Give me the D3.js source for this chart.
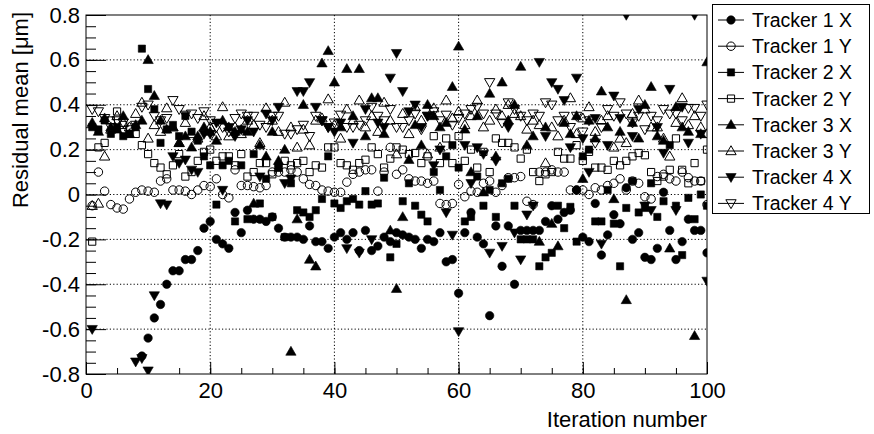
<!DOCTYPE html>
<html><head><meta charset="utf-8">
<script src="https://cdn.jsdelivr.net/npm/d3@7"></script>
<style>body{margin:0;background:#fff}svg{display:block}</style>
</head><body>
<svg id="c" width="874" height="434"></svg>
<script>
const iterations = d3.range(1, 101);
const seriesNames = ["Tracker 1 X","Tracker 1 Y","Tracker 2 X","Tracker 2 Y","Tracker 3 X","Tracker 3 Y","Tracker 4 X","Tracker 4 Y"];
const markerTypes = ["circleFilled","circleOpen","squareFilled","squareOpen","triUpFilled","triUpOpen","triDownFilled","triDownOpen"];
const xTicks = [0,20,40,60,80,100];
const yTicks = [-0.8,-0.6,-0.4,-0.2,0,0.2,0.4,0.6,0.8];

const tracker1X = [null,null,null,null,null,null,null,null,-0.72,-0.64,-0.55,-0.49,-0.40,-0.34,-0.34,-0.29,-0.29,-0.25,-0.15,-0.12,
 -0.20,-0.22,-0.24,-0.08,-0.17,-0.07,-0.11,-0.11,-0.12,-0.10,-0.15,-0.19,-0.19,-0.19,-0.20,-0.14,-0.21,-0.21,-0.24,-0.19,
 -0.17,-0.20,-0.17,-0.25,-0.16,-0.25,-0.23,-0.19,-0.21,-0.17,-0.18,-0.19,-0.20,-0.24,-0.20,-0.21,-0.17,-0.30,-0.29,-0.44,
 -0.17,-0.08,-0.19,-0.22,-0.54,-0.14,-0.32,-0.14,-0.40,-0.16,-0.16,-0.16,-0.16,-0.12,-0.05,-0.11,-0.08,-0.07,0.02,-0.19,
 -0.21,-0.04,-0.27,-0.18,-0.09,-0.13,0.03,-0.20,-0.17,-0.28,-0.29,-0.24,0.01,-0.16,-0.29,-0.21,-0.11,-0.16,-0.16,-0.26];
const tracker1Y = [-0.05,0.10,0.015,-0.045,-0.06,-0.065,-0.02,0.01,0.02,0.015,0.01,0.06,0.07,0.02,0.02,0.015,0.00,0.02,0.04,0.035,
 0.07,0.00,-0.015,0.11,0.04,0.04,0.035,0.03,0.04,0.10,0.10,0.10,0.11,0.10,0.07,0.045,0.04,0.02,0.015,0.01,
 0.01,0.055,0.09,0.10,0.11,0.11,0.015,0.10,0.21,0.09,0.11,0.07,0.06,0.06,0.05,0.06,-0.04,-0.045,-0.04,0.045,
 -0.01,0.015,0.01,0.05,0.06,0.01,0.04,0.075,0.075,0.08,-0.03,-0.045,0.10,0.10,0.11,0.10,0.10,0.02,0.02,0.02,
 0.00,0.03,0.02,0.04,0.05,0.07,0.02,0.06,0.05,-0.01,-0.02,0.08,0.09,0.07,0.06,0.10,0.075,0.06,0.06,-0.045];
const tracker2X = [0.30,0.29,0.33,0.27,0.30,0.26,0.27,0.30,0.65,0.47,0.38,0.23,0.29,0.31,0.26,0.35,0.28,0.24,0.17,0.13,
 -0.045,0.13,0.15,-0.12,0.13,-0.11,0.18,-0.04,0.07,-0.10,0.12,-0.19,0.05,-0.07,-0.08,-0.10,-0.07,-0.02,0.17,-0.04,
 -0.06,-0.03,-0.02,-0.045,0.015,-0.045,-0.04,0.075,-0.28,-0.22,-0.03,0.05,-0.05,-0.09,-0.12,0.10,0.02,0.17,0.22,0.12,
 -0.12,-0.10,0.08,-0.05,0.02,-0.10,0.05,0.07,-0.05,-0.20,-0.20,-0.20,-0.32,-0.28,-0.26,-0.05,-0.15,-0.055,-0.21,0.17,
 0.20,-0.12,-0.12,0.02,-0.13,-0.32,-0.06,0.06,-0.08,-0.06,0.05,-0.10,-0.03,0.22,-0.05,-0.27,-0.015,-0.11,0.00,-0.05];
const tracker2Y = [-0.21,0.21,0.23,0.33,0.37,0.31,0.27,0.27,0.22,0.18,0.14,0.12,0.09,0.13,0.18,0.08,0.10,0.15,0.19,0.20,
 0.15,0.17,0.17,0.13,0.18,0.08,0.10,0.14,0.14,0.09,0.12,0.15,0.13,0.14,0.15,0.10,0.13,0.12,0.21,0.21,
 0.14,0.13,0.11,0.14,0.155,0.21,0.18,0.12,0.16,0.21,0.20,0.18,0.185,0.14,0.17,0.26,0.14,0.25,0.14,0.26,
 0.15,0.20,0.12,0.19,0.10,0.25,0.23,0.23,0.21,0.16,0.20,0.10,0.06,0.09,0.10,0.19,0.16,0.16,0.22,0.15,
 0.19,0.12,0.12,0.11,0.15,0.13,0.15,0.17,0.185,0.175,0.10,0.06,0.08,0.11,0.25,0.11,0.05,0.14,0.06,0.20];
const tracker3X = [0.32,0.28,0.34,0.30,0.29,0.35,0.27,0.31,0.33,0.60,0.44,0.33,0.29,0.30,0.23,0.26,0.21,0.26,0.30,0.28,
 0.24,0.33,0.30,0.28,0.29,0.28,-0.04,0.22,0.17,0.28,0.15,0.20,-0.70,-0.11,0.40,-0.29,-0.32,0.585,0.64,0.50,
 0.30,0.56,0.35,0.56,0.26,0.43,0.43,0.27,-0.16,-0.42,-0.10,0.155,0.31,0.22,0.40,0.35,0.30,0.32,0.48,0.66,
 0.29,0.10,0.35,0.01,0.45,0.17,0.50,0.33,0.40,0.57,0.22,0.26,-0.21,0.30,-0.13,-0.23,0.32,0.27,0.35,0.07,
 0.33,0.25,0.46,0.30,-0.02,0.28,-0.47,0.32,0.25,0.40,0.48,0.26,0.24,-0.24,0.39,0.30,0.28,-0.63,0.27,0.59];
const tracker3Y = [-0.05,-0.04,0.17,0.29,0.35,0.32,0.30,0.36,0.41,0.25,0.31,0.28,0.385,0.30,0.23,0.32,0.27,0.25,0.35,0.30,
 0.26,0.39,0.26,0.30,0.27,0.33,0.31,0.23,0.385,0.33,0.28,0.41,0.30,0.21,0.29,0.22,0.33,0.34,0.425,0.31,
 0.25,0.38,0.33,0.42,0.30,0.35,0.28,0.41,0.33,0.18,0.36,0.27,0.39,0.33,0.18,0.385,0.21,0.42,0.34,0.37,
 0.31,0.35,0.42,0.30,0.33,0.38,0.35,0.40,0.36,0.35,0.29,0.33,0.31,0.14,0.30,0.26,0.33,0.43,0.27,0.34,
 0.39,0.28,0.33,0.35,0.21,0.25,0.23,0.36,0.42,0.38,0.30,0.30,0.25,0.17,0.32,0.43,0.31,0.35,0.30,0.27];
const tracker4X = [-0.60,null,null,null,null,null,null,-0.745,-0.73,-0.785,-0.45,-0.04,-0.045,0.17,0.14,0.155,0.11,0.10,0.27,0.27,
 0.32,0.02,0.30,0.26,0.29,0.33,0.28,0.08,0.36,0.33,0.39,0.05,0.07,0.46,0.46,0.50,0.39,0.33,0.30,0.28,
 0.32,-0.24,0.23,-0.26,0.38,-0.20,0.32,0.30,0.52,0.63,0.46,0.37,0.40,0.30,0.35,0.13,0.20,-0.08,-0.18,-0.61,
 0.22,0.05,0.21,0.18,-0.26,0.15,-0.23,0.30,-0.17,-0.29,-0.09,-0.05,0.59,0.26,0.50,0.47,0.42,0.21,0.52,0.25,
 0.10,0.34,-0.22,0.22,0.44,0.34,0.80,0.26,0.38,-0.05,-0.07,0.30,0.185,0.47,-0.07,0.39,0.23,0.80,0.27,-0.385];
const tracker4Y = [0.38,0.37,0.34,0.30,0.33,0.32,0.29,0.31,0.39,0.40,0.35,0.33,0.34,0.42,0.38,0.355,0.36,0.34,0.37,0.33,
 0.30,0.30,0.28,0.34,0.36,0.35,0.35,0.31,0.30,0.35,0.35,0.27,0.27,0.29,0.31,0.26,0.35,0.33,0.30,0.32,
 0.355,0.30,0.30,0.31,0.33,0.39,0.35,0.33,0.38,0.30,0.30,0.33,0.36,0.29,0.35,0.37,0.33,0.355,0.31,0.34,
 0.36,0.38,0.39,0.36,0.50,0.36,0.32,0.41,0.38,0.35,0.33,0.36,0.35,0.41,0.40,0.33,0.35,0.30,0.35,0.28,
 0.33,0.23,0.30,0.38,0.35,0.41,0.36,0.32,0.35,0.29,0.35,0.33,0.38,0.36,0.36,0.33,0.385,0.385,0.35,0.40];

const seriesValues = [tracker1X,tracker1Y,tracker2X,tracker2Y,tracker3X,tracker3Y,tracker4X,tracker4Y];

const L = 86, R = 707, T = 15, B = 374;
const x = d3.scaleLinear().domain([0,100]).range([L,R]);
const y = d3.scaleLinear().domain([-0.8,0.8]).range([B,T]);
const svg = d3.select("#c");
const font = "'Liberation Sans', Arial, Helvetica, sans-serif";

function markerPath(type){
  if (type.startsWith("circle")) return d3.symbol(d3.symbolCircle, 56)();
  if (type.startsWith("square")) return d3.symbol(d3.symbolSquare, 52)();
  return d3.symbol(d3.symbolTriangle, 46)();
}
function drawMarker(g, type, cx, cy){
  const filled = type.endsWith("Filled");
  const rot = type.startsWith("triDown") ? " rotate(180)" : "";
  const dy = type.startsWith("triUp") ? 0.7 : (type.startsWith("triDown") ? -0.7 : 0);
  g.append("path").attr("d", markerPath(type))
    .attr("transform", `translate(${cx},${cy+dy})${rot}`)
    .attr("fill", filled ? "#000" : "none")
    .attr("stroke", "#000").attr("stroke-width", filled ? 0.6 : 1);
}

// grid
const grid = svg.append("g").attr("stroke","#000").attr("stroke-width",1).attr("stroke-dasharray","1.2,2.2");
xTicks.filter(d => d>0 && d<100).forEach(d => grid.append("line")
  .attr("x1", x(d)).attr("x2", x(d)).attr("y1", T).attr("y2", B));
yTicks.filter(d => d>-0.8 && d<0.8).forEach(d => grid.append("line")
  .attr("x1", L).attr("x2", R).attr("y1", y(d)).attr("y2", y(d)));

// clip & data
svg.append("clipPath").attr("id","clip").append("rect")
  .attr("x", L).attr("y", T).attr("width", R-L).attr("height", B-T);
const pts = svg.append("g").attr("clip-path","url(#clip)");
seriesValues.forEach((vals, si) => {
  const g = pts.append("g");
  vals.forEach((v, i) => {
    if (v === null) return;
    drawMarker(g, markerTypes[si], x(iterations[i]), y(v));
  });
});

// axes
function styleAxis(g){
  g.select(".domain").remove();
  g.selectAll(".tick line").attr("stroke","#000").attr("stroke-width",1);
  g.selectAll("text").attr("font-family", font).attr("fill","#000");
}
const fmtY = d => d === 0 ? "0" : String(d.toFixed(1));
const xMinor = d3.range(0, 101, 5);
const yMinor = d3.range(-16, 17).map(k => k*0.05);
svg.append("g").attr("transform",`translate(0,${B})`)
  .call(d3.axisBottom(x).tickValues(xMinor).tickSize(-6).tickFormat(""))
  .call(styleAxis);
svg.append("g").attr("transform",`translate(0,${B})`)
  .call(d3.axisBottom(x).tickValues(xTicks).tickSize(-12).tickPadding(8).tickFormat(d => String(d)))
  .call(styleAxis)
  .call(g => g.selectAll("text").attr("font-size", 22));
svg.append("g").attr("transform",`translate(${L},0)`)
  .call(d3.axisLeft(y).tickValues(yMinor).tickSize(-10).tickFormat(""))
  .call(styleAxis);
svg.append("g").attr("transform",`translate(${L},0)`)
  .call(d3.axisLeft(y).tickValues(yTicks).tickSize(-20).tickPadding(6).tickFormat(fmtY))
  .call(styleAxis)
  .call(g => g.selectAll("text").attr("font-size", 22));

// frame
svg.append("rect").attr("x", L).attr("y", T).attr("width", R-L).attr("height", B-T)
  .attr("fill","none").attr("stroke","#000").attr("stroke-width",1);

// axis titles
svg.append("text").attr("x", R).attr("y", 427).attr("text-anchor","end")
  .attr("font-family", font).attr("font-size", 22).text("Iteration number");
svg.append("text").attr("transform", "translate(28,12) rotate(-90)").attr("text-anchor","end")
  .attr("font-family", font).attr("font-size", 22).text("Residual mean [\u03bcm]");

// legend
const lg = svg.append("g");
lg.append("rect").attr("x", 712.5).attr("y", 4.5).attr("width", 157).attr("height", 209)
  .attr("fill","#fff").attr("stroke","#000").attr("stroke-width",1);
seriesNames.forEach((name, i) => {
  const cy = 20 + i*26.2;
  lg.append("line").attr("x1", 718).attr("x2", 744).attr("y1", cy).attr("y2", cy)
    .attr("stroke","#000").attr("stroke-width",1);
  drawMarker(lg, markerTypes[i], 731, cy);
  lg.append("text").attr("x", 752).attr("y", cy).attr("dy","0.36em")
    .attr("font-family", font).attr("font-size", 19.5).text(name);
});
</script>
</body></html>
